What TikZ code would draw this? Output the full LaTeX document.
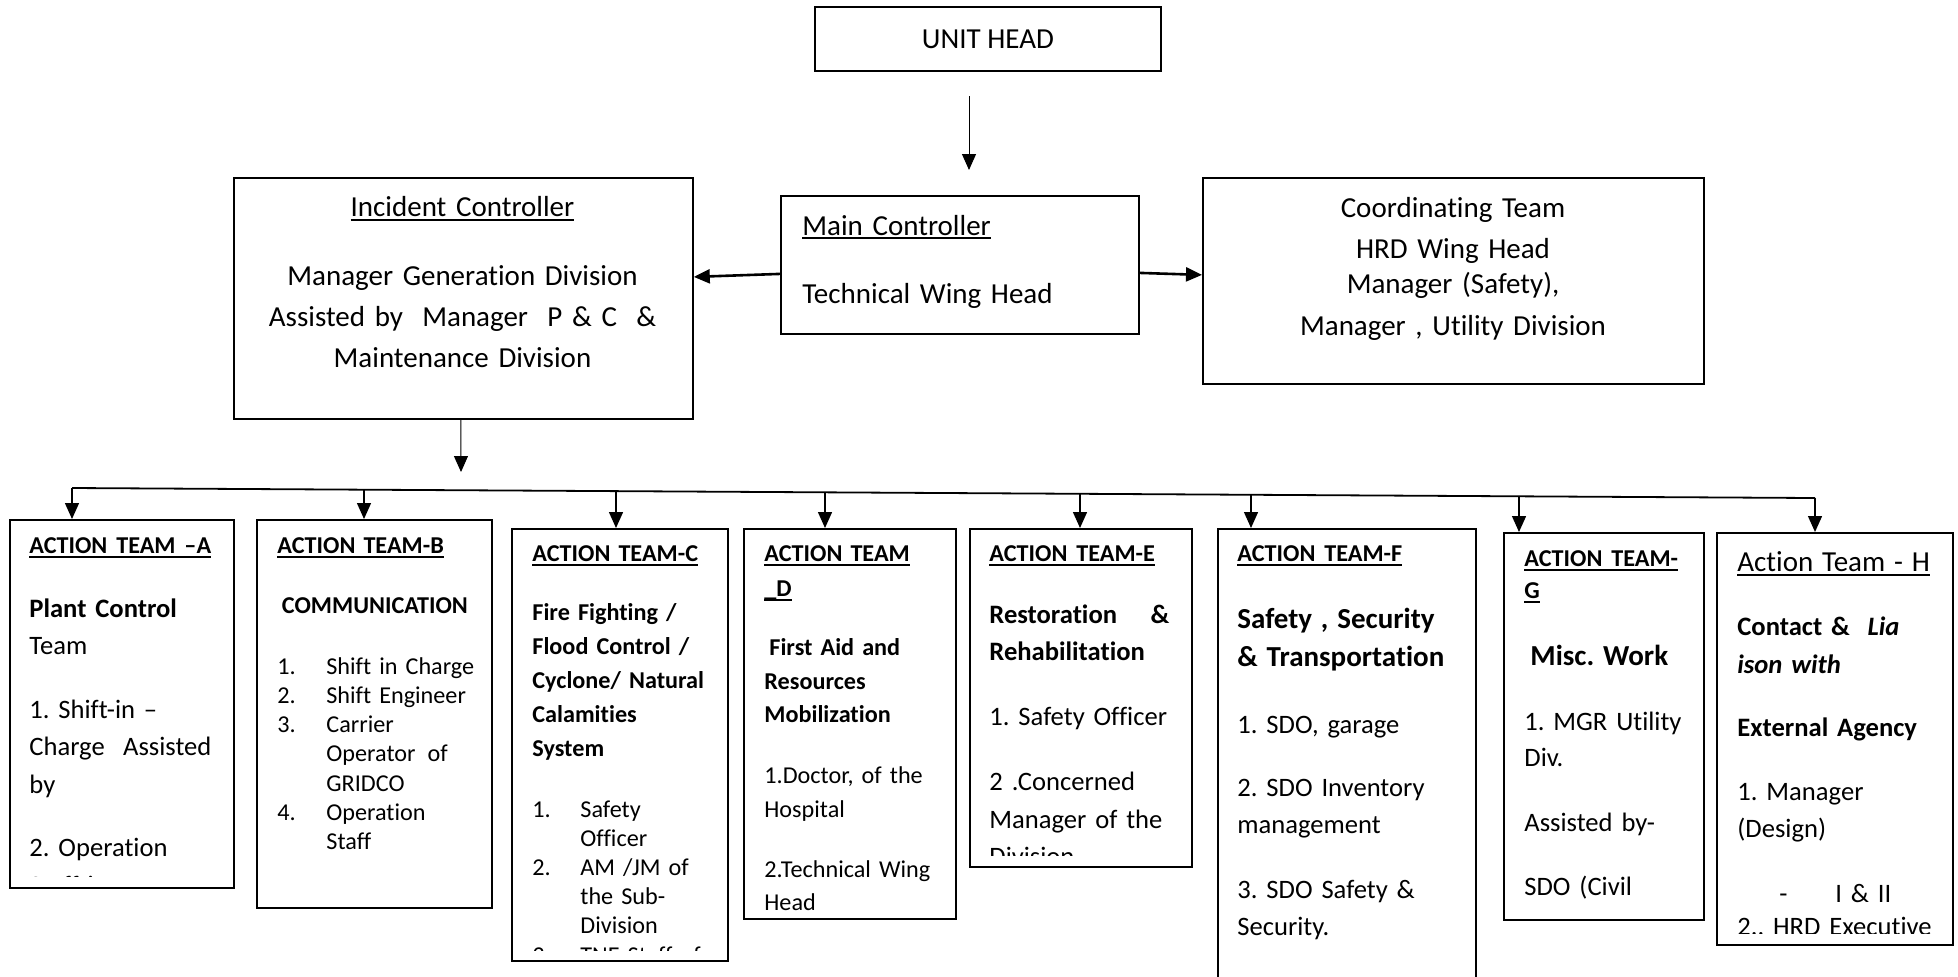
\documentclass[tikz,border=0pt]{standalone}
\usepackage{fontspec}
\setmainfont{Carlito}[Ligatures={TeX,NoCommon}]
\usetikzlibrary{arrows.meta}
\frenchspacing

\newcommand\wten{\fontsize{12.1}{\baselineskip}\selectfont}
\newcommand\welv{\fontsize{13.3}{\baselineskip}\selectfont}
\newcommand\wtwl{\fontsize{14.5}{\baselineskip}\selectfont}
\newcommand\undr[1]{\leavevmode\setbox0\hbox{#1}\rlap{\rule[-2.1pt]{\wd0}{0.9pt}}\box0}
\newcommand\teamhead[1]{{\wten\bfseries\undr{#1}}}

\tikzset{
  box/.style={draw, line width=0.9pt, inner sep=0pt, anchor=north west},
  txt/.style={inner sep=0pt, anchor=base west, align=left},
  arr/.style={-{Triangle[length=8pt,width=7pt]}, line width=0.7pt},
}

\begin{document}
\begin{tikzpicture}[x=0.5pt, y=-0.5pt]
\useasboundingbox (0,0) rectangle (1958,976);
\clip (0,0) rectangle (1958,976);

\node[box, minimum width=173pt, minimum height=32pt, font=\fontsize{14.5}{17.5}\selectfont] (uh) at (814, 6) {UNIT HEAD};
\node[box, minimum width=229.5pt, minimum height=120.5pt] (ic) at (233, 177) {};
\node[box, minimum width=179pt, minimum height=69pt] (mc) at (780, 195) {};
\node[box, minimum width=250.5pt, minimum height=103pt] (ct) at (1202, 177) {};

\node[txt, anchor=base, align=center, text width=225pt, font=\fontsize{14.5}{20.5}\selectfont] (ic-txt) at (462.5, 216.7) {\undr{Incident Controller}\\[13.85pt] Manager Generation Division\\ Assisted by\ \ Manager\ \ P \& C\ \ \&\\ Maintenance Division};
\node[txt, text width=170pt, font=\fontsize{14.5}{20.5}\selectfont] (mc-txt) at (802, 235) {\undr{Main Controller}\\[13.85pt] Technical Wing Head};
\node[txt, anchor=base, align=center, text width=240pt, font=\fontsize{14.5}{20.5}\selectfont] (ct-txt) at (1453, 217) {Coordinating Team\\ HRD Wing Head\\[-2.65pt] Manager (Safety),\\[0.35pt] Manager , Utility Division};

\coordinate (uh-a) at (969, 96);
\coordinate (uh-b) at (969, 170);
\coordinate (ic-b) at (461, 472);
\path [arr, line width=0.5pt] (uh-a) edge (uh-b);
\path [arr, line width=1.3pt] ([yshift=-4.5pt]mc.west) edge ([yshift=10.75pt]ic.east);
\path [arr, line width=1.3pt] ([yshift=-4pt]mc.east) edge ([yshift=3pt]ct.west);
\path [arr, line width=0.5pt] ([xshift=-1.25pt]ic.south) edge (ic-b);

\node[box, minimum width=112pt, minimum height=184pt] (ta) at (9, 519) {};
\node[box, minimum width=117.5pt, minimum height=194pt] (tb) at (256, 519) {};
\node[box, minimum width=108pt, minimum height=216pt] (tc) at (511, 528) {};
\node[box, minimum width=106pt, minimum height=195pt] (td) at (743, 528) {};
\node[box, minimum width=111pt, minimum height=169pt] (te) at (969, 528) {};
\node[box, minimum width=129pt, minimum height=240pt] (tf) at (1217, 528) {};
\node[box, minimum width=100pt, minimum height=193.5pt] (tg) at (1503, 532) {};
\node[box, minimum width=118pt, minimum height=206pt] (th) at (1716, 532) {};

\coordinate (da) at (72, 488);
\coordinate (db) at (364, 489.7);
\coordinate (dc) at (616, 491.1);
\coordinate (dd) at (825, 492.3);
\coordinate (de) at (1080, 493.8);
\coordinate (df) at (1251, 494.8);
\coordinate (dg) at (1519, 496.3);
\coordinate (dh) at (1815, 498);
\draw [line width=0.9pt] (da) -- (dh);
\path [arr] (da) edge (da |- ta.north);
\path [arr] (db) edge (db |- tb.north);
\path [arr] (dc) edge (dc |- tc.north);
\path [arr] (dd) edge (dd |- td.north);
\path [arr] (de) edge (de |- te.north);
\path [arr] (df) edge (df |- tf.north);
\path [arr] (dg) edge (dg |- tg.north);
\path [arr] (dh) edge (dh |- th.north);

\begin{scope}
\clip (ta.north west) rectangle ([yshift=6.2pt]ta.south east);
\node[txt, text width=100pt, font=\fontsize{13.3}{18.75}\selectfont] (ta-txt) at (29, 553.3) {\teamhead{ACTION TEAM –A}\\[13.1pt]
{\bfseries Plant Control}\\
Team\\[13pt]
1. Shift-in –\\
\makebox[91pt][l]{Charge\hfill Assisted}\\
by\\[13pt]
2. Operation\\
Staff in};
\end{scope}

\node[txt, text width=100pt, font=\fontsize{12.1}{14.65}\selectfont] (tb-txt) at (277, 553.3) {\teamhead{ACTION TEAM-B}\\[15.45pt]
\makebox[97.5pt][c]{\bfseries COMMUNICATION}\\[15.6pt]
\makebox[24.5pt][l]{1.}Shift in Charge\\
\makebox[24.5pt][l]{2.}Shift Engineer\\
\makebox[24.5pt][l]{3.}Carrier\\
\hspace*{24.5pt}Operator\hspace{2pt} of\\
\hspace*{24.5pt}GRIDCO\\
\makebox[24.5pt][l]{4.}Operation\\
\hspace*{24.5pt}Staff};

\begin{scope}
\clip (tc.north west) rectangle ([yshift=5.5pt]tc.south east);
\node[txt, text width=96pt, font=\fontsize{12.1}{14.6}\selectfont] (tc-txt) at (532, 561.5) {\teamhead{ACTION TEAM-C}\\[14.9pt]
{\bfseries Fire Fighting /}\\[2.35pt]
{\bfseries Flood Control /}\\[2.35pt]
{\bfseries Cyclone/ Natural}\\[2.35pt]
{\bfseries Calamities}\\[2.35pt]
{\bfseries System}\\[15.9pt]
\makebox[24pt][l]{1.}Safety\\
\hspace*{24pt}Officer\\
\makebox[24pt][l]{2.}AM /JM of\\
\hspace*{24pt}the Sub-\\
\hspace*{24pt}Division\\
\makebox[24pt][l]{3.}TNE Staff of};
\end{scope}

\begin{scope}
\clip (td.north west) rectangle ([yshift=4.5pt]td.south east);
\node[txt, text width=94pt, font=\fontsize{12.1}{16.75}\selectfont] (td-txt) at (764, 561.7) {\teamhead{ACTION TEAM}\\[0.75pt]
\teamhead{\_D}\\[12.65pt]
\hspace*{2.5pt}{\bfseries First Aid and}\\
{\bfseries Resources}\\
{\bfseries Mobilization}\\[13.9pt]
1.Doctor, of the\\
Hospital\\[13.2pt]
2.Technical Wing\\
Head};
\end{scope}

\begin{scope}
\clip (te.north west) rectangle ([yshift=6pt]te.south east);
\node[txt, text width=98pt, font=\fontsize{13.3}{18.75}\selectfont] (te-txt) at (989, 561.7) {\teamhead{ACTION TEAM-E}\\[11.9pt]
\makebox[90pt][l]{\bfseries Restoration\hfill\&}\\
{\bfseries Rehabilitation}\\[13.75pt]
1. Safety Officer\\[13.75pt]
2 .Concerned\\
Manager of the\\
Division};
\end{scope}

\node[txt, text width=115pt, font=\fontsize{13.3}{18.5}\selectfont] (tf-txt) at (1237, 561.7) {\teamhead{ACTION TEAM-F}\\[14.8pt]
{\wtwl\bfseries Safety , Security}\\[0.7pt]
{\wtwl\bfseries \& Transportation}\\[14.8pt]
1. SDO, garage\\[13.2pt]
2. SDO Inventory\\
management\\[14pt]
3. SDO Safety \&\\
Security.};

\node[txt, text width=88pt, font=\fontsize{13.3}{18.35}\selectfont] (tg-txt) at (1524, 566.7) {\teamhead{ACTION TEAM-}\\[-2.55pt]
\teamhead{G}\\[15pt]
\hspace*{3pt}{\wtwl\bfseries Misc. Work}\\[14.15pt]
1. MGR Utility\\
Div.\\[14.15pt]
Assisted by-\\[13.3pt]
SDO (Civil};

\begin{scope}
\clip (th.north west) rectangle ([yshift=6pt]th.south east);
\node[txt, text width=104pt, font=\fontsize{13.3}{18.5}\selectfont] (th-txt) at (1737, 571.7) {{\wtwl\undr{Action Team - H}}\\[13.15pt]
{\bfseries Contact \&\ \ \textit{Lia}}\\[0.65pt]
{\bfseries\itshape ison with}\\[13.2pt]
{\bfseries External Agency}\\[13.15pt]
1. Manager\\
(Design)\\[14pt]
\hspace*{21pt}\makebox[28pt][l]{-}I \& II\\[-1.85pt]
2.. HRD Executive};
\end{scope}
\end{tikzpicture}
\end{document}
